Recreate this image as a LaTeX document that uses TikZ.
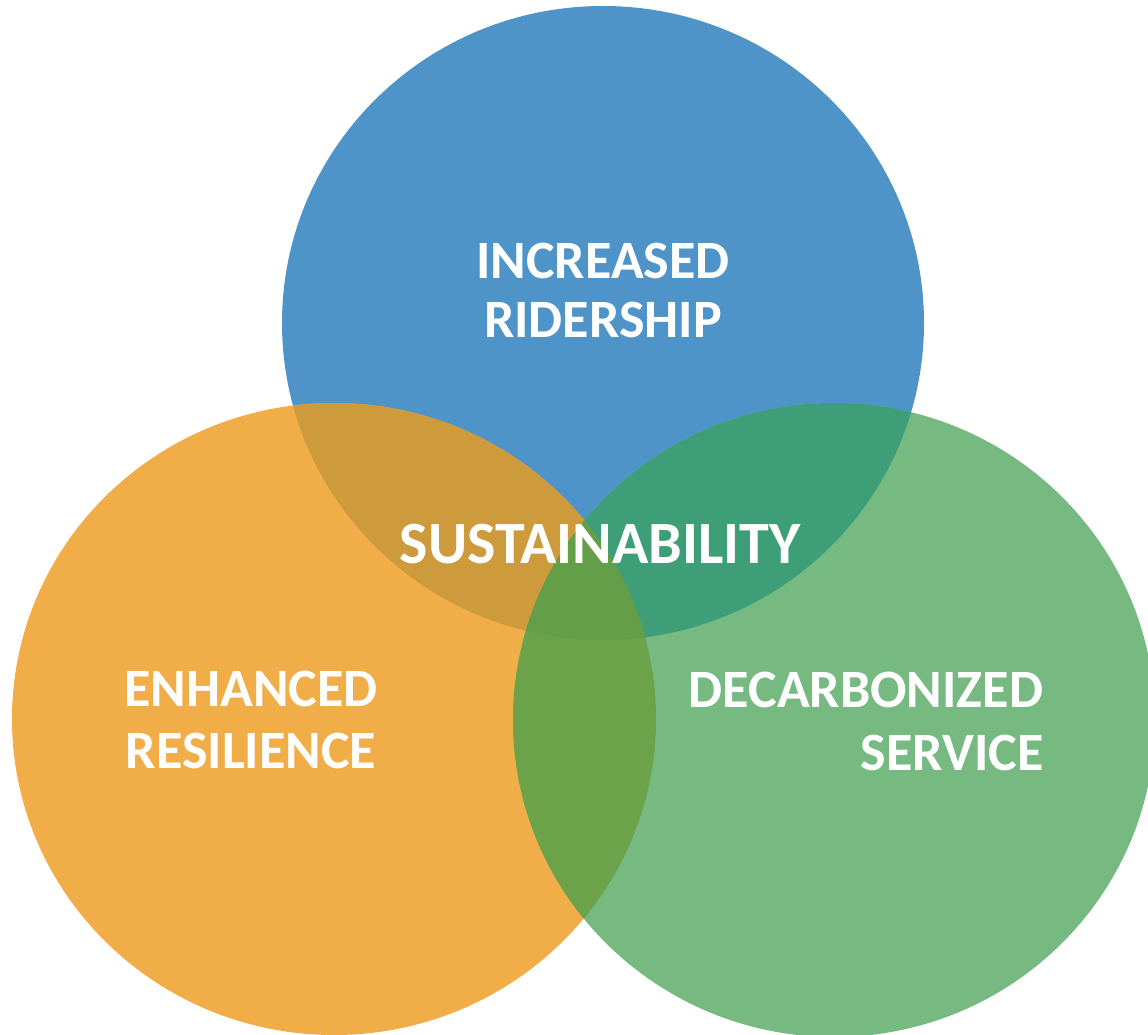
\documentclass[tikz,border=0pt]{standalone}
\usepackage{fontspec}
\newfontfamily\labfont{Carlito}
\definecolor{cBlue}{RGB}{79,148,200}
\definecolor{cOrange}{RGB}{240,173,72}
\definecolor{cGreen}{RGB}{118,186,130}
\definecolor{cBO}{RGB}{205,154,60}
\definecolor{cBG}{RGB}{61,158,120}
\definecolor{cOG}{RGB}{107,162,74}
\definecolor{cBOG}{RGB}{101,158,72}
\tikzset{
  lab/.style={text=white, font=\labfont\bfseries\fontsize{54}{60}\selectfont, inner sep=0pt},
  biglab/.style={lab, font=\labfont\bfseries\fontsize{60}{66}\selectfont},
}
\begin{document}
\begin{tikzpicture}[x=1pt,y=-1pt]
\useasboundingbox (0,0) rectangle (1148,1035);
\def\Bell{(603,323) ellipse [x radius=321pt, y radius=317pt]}
\def\Oell{(334,719) ellipse [x radius=322pt, y radius=316pt]}
\def\Gell{(834,720) ellipse [x radius=321pt, y radius=317pt]}
\fill[cBlue] \Bell;
\fill[cOrange] \Oell;
\fill[cGreen] \Gell;
\begin{scope}
  \clip \Bell;
  \fill[cBO] \Oell;
  \fill[cBG] \Gell;
\end{scope}
\begin{scope}
  \clip \Oell;
  \fill[cOG] \Gell;
  \clip \Bell;
  \fill[cBOG] \Gell;
\end{scope}
\node[lab, anchor=base] (inc) at (603,278) {INCREASED};
\node[lab, anchor=base] (rid) at (603,337) {RIDERSHIP};
\node[biglab, anchor=base] (sus) at (600,563) {SUSTAINABILITY};
\node[lab, anchor=base] (enh) at (251,706) {ENHANCED};
\node[lab, anchor=base] (res) at (251,768) {RESILIENCE};
\node[lab, anchor=base] (dec) at (866,707) {DECARBONIZED};
\node[lab, anchor=base] (ser) at (952,770) {SERVICE};
\end{tikzpicture}
\end{document}
